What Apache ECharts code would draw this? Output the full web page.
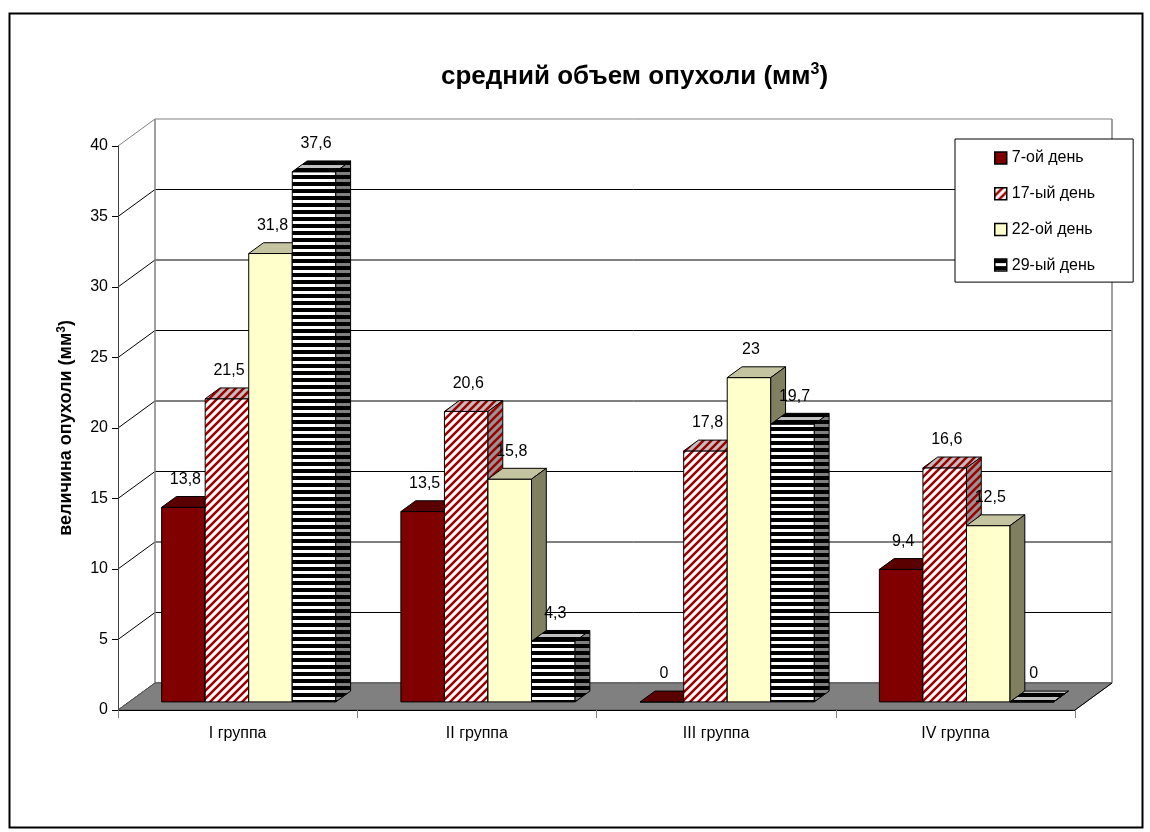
<!DOCTYPE html>
<html><head><meta charset="utf-8">
<script src="https://cdn.jsdelivr.net/npm/echarts@6/dist/echarts.min.js"></script>
<style>html,body{margin:0;padding:0;background:#fff}#c{width:1150px;height:832px}</style>
</head><body><div id="c"></div>
<script>
// ---- data ----
const categories = ['I группа', 'II группа', 'III группа', 'IV группа'];
const seriesNames = ['7-ой день', '17-ый день', '22-ой день', '29-ый день'];
const day7  = [13.8, 13.5, 0, 9.4];
const day17 = [21.5, 20.6, 17.8, 16.6];
const day22 = [31.8, 15.8, 23, 12.5];
const day29 = [37.6, 4.3, 19.7, 0];
const yTicks = [0, 5, 10, 15, 20, 25, 30, 35, 40];

// ---- 3D look parameters ----
const DX = 37, DY = -27;      // wall depth
const F0 = 0.3, F1 = 0.7;     // bar depth (fraction of wall depth)
const BAR_W = 0.182;          // bar width as fraction of band

function makeCanvas(w, h, draw) { const c = document.createElement('canvas'); c.width = w; c.height = h; draw(c.getContext('2d')); return c; }
function diag(bg, fg) {
  return { image: makeCanvas(8, 8, g => {
    g.fillStyle = bg; g.fillRect(0, 0, 8, 8);
    g.strokeStyle = fg; g.lineWidth = 2.6; g.beginPath();
    g.moveTo(-4, 4); g.lineTo(4, -4);
    g.moveTo(-2, 10); g.lineTo(10, -2);
    g.moveTo(4, 12); g.lineTo(12, 4);
    g.stroke();
  }), repeat: 'repeat' };
}
function hstripe(bg) {
  return { image: makeCanvas(4, 7, g => {
    g.fillStyle = bg; g.fillRect(0, 0, 4, 7);
    g.fillStyle = '#000'; g.fillRect(0, 0, 4, 4);
  }), repeat: 'repeat' };
}
const faces = [
  ['#800000', '#5a0000', '#400000'],
  [diag('#ffffff', '#a00000'), diag('#c0c0c0', '#a00000'), diag('#969696', '#a00000')],
  ['#ffffcc', '#c4c4a0', '#808060'],
  [hstripe('#ffffff'), hstripe('#c0c0c0'), hstripe('#808080')]
];
const seriesData = [day7, day17, day22, day29];
const fmt = v => String(v).replace('.', ',');

function barRender(s) {
  return function (params, api) {
    const c = api.value(0), v = api.value(1);
    const p0 = api.coord([c, 0]), pv = api.coord([c, v]);
    const B = api.size([1, 0])[0];
    const w = B * BAR_W;
    const fx = F0 * DX, fy = F0 * DY, bx = (F1 - F0) * DX, by = (F1 - F0) * DY;
    const x0 = p0[0] - 2 * w + s * w + fx, x1 = x0 + w;
    const yt = pv[1] + fy, yb = p0[1] + fy;
    const st = faces[s];
    const mk = (pts, fill) => ({ type: 'polygon', shape: { points: pts }, style: { fill: fill, stroke: '#000', lineWidth: 1 } });
    return { type: 'group', children: [
      mk([[x0, yt], [x1, yt], [x1, yb], [x0, yb]], st[0]),
      mk([[x0, yt], [x1, yt], [x1 + bx, yt + by], [x0 + bx, yt + by]], st[1]),
      mk([[x1, yt], [x1 + bx, yt + by], [x1 + bx, yb + by], [x1, yb]], st[2]),
      { type: 'text', z2: 100, style: { text: fmt(v), x: (x0 + x1) / 2 + 2, y: yt - 28, textAlign: 'center', textVerticalAlign: 'middle', fontFamily: 'Arial', fontSize: 16, fill: '#000' } }
    ]};
  };
}

function wallRender(params, api) {
  const cs = params.coordSys;
  const v = api.value(1);
  const p = api.coord([0, v]);
  const y = p[1];
  const left = cs.x, right = cs.x + cs.width;
  const isTop = v === yTicks[yTicks.length - 1];
  const col = isTop ? '#808080' : '#000';
  const children = [
    { type: 'line', shape: { x1: left, y1: y, x2: left + DX, y2: y + DY }, style: { stroke: col, lineWidth: 1 } },
    { type: 'line', shape: { x1: left + DX, y1: y + DY, x2: right + DX, y2: y + DY }, style: { stroke: col, lineWidth: 1 } }
  ];
  if (isTop) {
    const yb = api.coord([0, 0])[1] + DY;
    children.push({ type: 'line', shape: { x1: left + DX, y1: y + DY, x2: left + DX, y2: yb }, style: { stroke: '#808080', lineWidth: 1.5 } });
    children.push({ type: 'line', shape: { x1: right + DX, y1: y + DY, x2: right + DX, y2: yb }, style: { stroke: '#808080', lineWidth: 1.5 } });
  }
  return { type: 'group', children: children };
}

function floorRender(params, api) {
  const cs = params.coordSys;
  const y = api.coord([0, 0])[1];
  const left = cs.x, right = cs.x + cs.width;
  return { type: 'group', children: [
    { type: 'polygon', shape: { points: [[left, y], [right, y], [right + DX, y + DY], [left + DX, y + DY]] }, style: { fill: '#808080', stroke: '#555', lineWidth: 1 } },
    { type: 'line', shape: { x1: right, y1: y, x2: right + DX, y2: y + DY }, style: { stroke: '#000', lineWidth: 1 } }
  ]};
}

const chart = echarts.init(document.getElementById('c'), null, { renderer: 'canvas' });
const option = {
  animation: false,
  backgroundColor: '#fff',
  title: {
    text: '{a|средний объем опухоли (мм}{s|3}{a|)}',
    left: 436, top: 57,
    textStyle: { rich: {
      a: { fontFamily: 'Arial', fontSize: 26, fontWeight: 'bold', color: '#000', lineHeight: 30 },
      s: { fontFamily: 'Arial', fontSize: 16, fontWeight: 'bold', color: '#000', verticalAlign: 'top', lineHeight: 16 }
    }}
  },
  legend: {
    orient: 'vertical', left: 955, top: 139,
    padding: [10, 38, 8, 39], itemGap: 17.7,
    itemWidth: 12, itemHeight: 12, icon: 'rect',
    backgroundColor: '#fff',
    borderColor: '#000', borderWidth: 1, selectedMode: false,
    textStyle: { fontFamily: 'Arial', fontSize: 16, color: '#000', lineHeight: 18 },
    data: seriesNames.map((n, i) => ({ name: n, itemStyle: { color: faces[i][0], borderColor: '#000', borderWidth: 1.5 } }))
  },
  grid: { left: 118, right: 75, top: 146, bottom: 122 },
  xAxis: {
    type: 'category', data: categories, z: 4,
    axisLine: { lineStyle: { color: '#000', width: 1 } },
    axisTick: { show: true, length: 8, lineStyle: { color: '#808080' } },
    axisLabel: { fontFamily: 'Arial', fontSize: 16, color: '#000', margin: 16 },
    splitLine: { show: false }
  },
  yAxis: {
    type: 'value', min: 0, max: 40, interval: 5, z: 4,
    name: '{a|величина опухоли (мм}{s|3}{a|)}',
    nameLocation: 'middle', nameRotate: 90, nameGap: 42,
    nameTextStyle: { rich: {
      a: { fontFamily: 'Arial', fontSize: 18, fontWeight: 'bold', color: '#000', lineHeight: 20 },
      s: { fontFamily: 'Arial', fontSize: 12, fontWeight: 'bold', color: '#000', verticalAlign: 'top', lineHeight: 12 }
    }},
    axisLine: { show: true, lineStyle: { color: '#404040', width: 1 } },
    axisTick: { show: true, length: 6, lineStyle: { color: '#000' } },
    axisLabel: { fontFamily: 'Arial', fontSize: 16, color: '#000', margin: 10 },
    splitLine: { show: false }
  },
  graphic: [{ type: 'rect', left: 7, top: 11, shape: { width: 1133, height: 814 }, style: { fill: 'none', stroke: '#000', lineWidth: 2 }, z: 0 }],
  series: [
    { type: 'custom', name: 'walls', z: 1, clip: false, silent: true, renderItem: wallRender, data: yTicks.map(v => [0, v]), encode: { x: 0, y: 1 } },
    { type: 'custom', name: 'floor', z: 2, clip: false, silent: true, renderItem: floorRender, data: [[0, 0]], encode: { x: 0, y: 1 } }
  ].concat(seriesNames.map((n, s) => ({
    type: 'custom', name: n, z: 3, clip: false,
    itemStyle: { color: s === 1 ? '#a00000' : (s === 3 ? '#000' : faces[s][0]) },
    renderItem: barRender(s),
    data: seriesData[s].map((v, i) => [i, v]), encode: { x: 0, y: 1 }
  })))
};
chart.setOption(option);
</script></body></html>
